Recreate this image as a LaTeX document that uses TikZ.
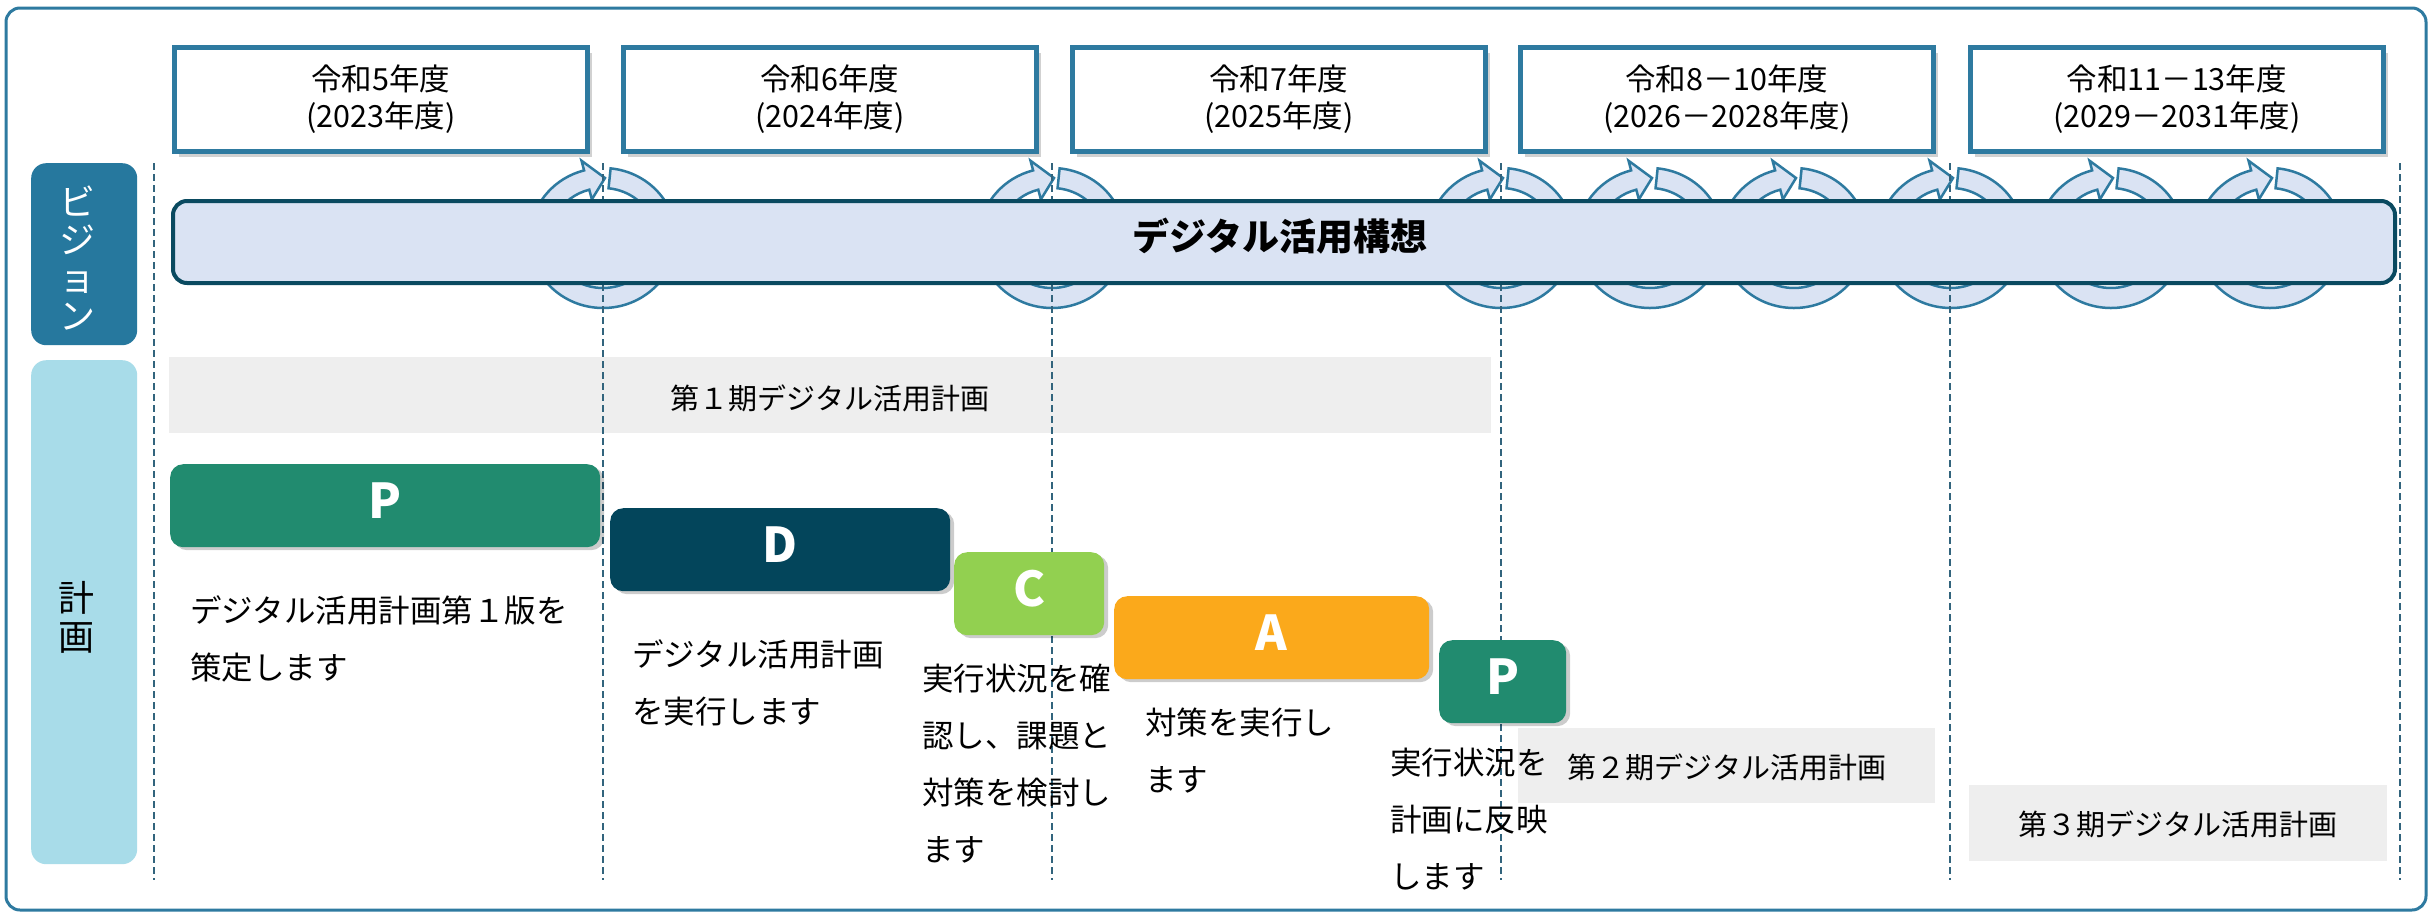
\documentclass[tikz,border=0pt]{standalone}
\usepackage{fontspec}
\setmainfont{Noto Sans CJK JP}
\usetikzlibrary{shadows}
\definecolor{frameblue}{RGB}{46,122,160}
\definecolor{visfill}{HTML}{DAE3F3}
\definecolor{visedge}{HTML}{0A4A60}
\definecolor{vislabel}{HTML}{26789E}
\definecolor{planlabel}{HTML}{A8DCE9}
\definecolor{graybar}{HTML}{EEEEEE}
\definecolor{pgreen}{HTML}{218B6F}
\definecolor{ddark}{HTML}{03455B}
\definecolor{cgreen}{HTML}{92D050}
\definecolor{aorange}{HTML}{FBA91B}
\definecolor{dashcol}{RGB}{50,100,125}
\tikzset{
  yearbox/.style={draw=frameblue, line width=4.5pt, fill=white, anchor=north west,
    minimum width=413pt, minimum height=104pt, inner sep=0pt, align=center,
    font=\fontsize{30.5}{37}\selectfont,
    drop shadow={shadow xshift=5pt, shadow yshift=-6pt, fill=black, opacity=.18}},
  sidelabel/.style={anchor=north west, rounded corners=15pt, minimum width=106pt, inner sep=0pt},
  sidetext/.style={align=center, inner sep=0pt},
  planbar/.style={fill=graybar, anchor=north west, inner sep=0pt},
  planbartext/.style={font=\fontsize{29}{29}\selectfont, inner sep=0pt},
  pdca/.style={anchor=north west, rounded corners=13pt, minimum height=83pt, inner sep=0pt,
    text=white, font=\fontsize{48}{48}\selectfont\bfseries, text depth=10pt,
    drop shadow={shadow xshift=4pt, shadow yshift=-3pt, fill=black, opacity=.2}},
  desc/.style={anchor=west, align=left, inner sep=0pt, font=\fontsize{31.5}{57}\selectfont},
  vline/.style={draw=dashcol, line width=1.6pt, dash pattern=on 7pt off 4pt},
  cycfill/.style={draw=frameblue, line width=2.5pt, fill=visfill},
  cycarrow/.pic={
    \path[cycfill]
      (-84:73 and 70) arc[start angle=-84, end angle=255, x radius=73, y radius=70]
      -- (255:83 and 80) -- (2,-60) -- (255:43 and 40) -- (255:53 and 50)
      arc[start angle=255, end angle=-84, x radius=53, y radius=50] -- cycle;
  },
}
\begin{document}
\begin{tikzpicture}[x=1pt,y=-1pt]
\useasboundingbox (0,0) rectangle (2433,916);
\fill[white] (0,0) rectangle (2433,916);
% outer frame
\draw[frameblue, line width=3pt, rounded corners=14pt] (6,8) rectangle (2426,910);

% year headers
\node[yearbox] (y1) at (172,45) {令和5年度\\(2023年度)};
\node[yearbox] (y2) at (621,45) {令和6年度\\(2024年度)};
\node[yearbox] (y3) at (1070,45) {令和7年度\\(2025年度)};
\node[yearbox] (y4) at (1518,45) {令和8－10年度\\(2026－2028年度)};
\node[yearbox] (y5) at (1968,45) {令和11－13年度\\(2029－2031年度)};

% cycle arrows
\foreach \cx [count=\i] in {603,1052,1501,1650,1794,1951,2111,2270}
  \pic (cyc\i) at (\cx,238) {cycarrow};

% plan bars
\node[planbar, minimum width=1322pt, minimum height=76pt] (g1) at (169,357) {};
\node[planbar, minimum width=417pt, minimum height=75pt] (g2) at (1518,728) {};
\node[planbar, minimum width=418pt, minimum height=76pt] (g3) at (1969,785) {};

% dashed year separators
\foreach \vx [count=\i] in {154,603,1052,1501,1950,2400} {
  \coordinate (vt\i) at (\vx,163);
  \coordinate (vb\i) at (\vx,880);
  \draw[vline] (vt\i) -- (vb\i);
}

% vision bar
\node[anchor=north west, draw=visedge, line width=4pt, fill=visfill, rounded corners=14pt,
  minimum width=2222pt, minimum height=82pt, inner sep=0pt] (vision) at (171,199) {};
\node[font=\fontsize{37}{37}\selectfont\bfseries, inner sep=0pt] (visiontext) at (1280,236) {デジタル活用構想};

% side labels
\node[sidelabel, fill=vislabel, minimum height=182pt] (vislab) at (31,163) {};
\node[sidetext, text=white, font=\fontsize{36}{38}\selectfont] (vistext) at (77,258) {ビ\\ジ\\ョ\\ン};
\node[sidelabel, fill=planlabel, minimum height=504pt] (planlab) at (31,360) {};
\node[sidetext, font=\fontsize{36}{39}\selectfont] (plantext) at (76,617) {計\\画};

% plan bar texts
\node[planbartext] (g1t) at (830,398) {第１期デジタル活用計画};
\node[planbartext] (g2t) at (1727,767) {第２期デジタル活用計画};
\node[planbartext] (g3t) at (2178,824) {第３期デジタル活用計画};

% PDCA boxes
\node[pdca, fill=pgreen, minimum width=430pt] (P1) at (170,464) {P};
\node[pdca, fill=ddark, minimum width=340pt] (D) at (610,508) {D};
\node[pdca, fill=cgreen, minimum width=150pt] (C) at (954,552) {C};
\node[pdca, fill=aorange, minimum width=315pt] (A) at (1114,596) {A};
\node[pdca, fill=pgreen, minimum width=127pt] (P2) at (1439,640) {P};

% descriptions
\node[desc] (tP1) at (190,639) {デジタル活用計画第１版を\\策定します};
\node[desc] (tD) at (632,683) {デジタル活用計画\\を実行します};
\node[desc] (tC) at (922,763.5) {実行状況を確\\認し、課題と\\対策を検討し\\ます};
\node[desc] (tA) at (1145,751) {対策を実行し\\ます};
\node[desc] (tP2) at (1390,819.5) {実行状況を\\計画に反映\\します};
\end{tikzpicture}
\end{document}
